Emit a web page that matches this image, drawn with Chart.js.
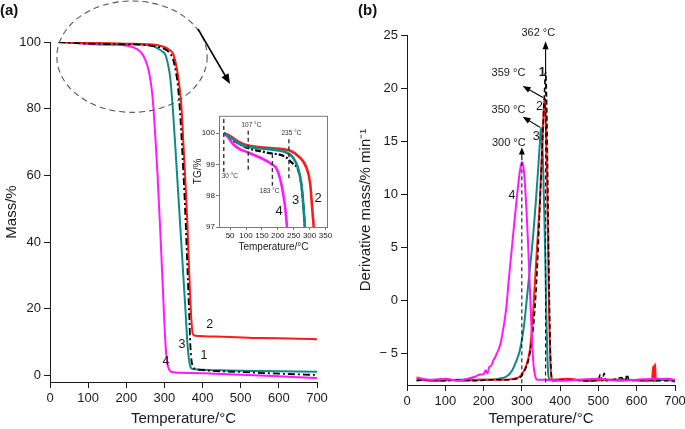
<!DOCTYPE html>
<html>
<head>
<meta charset="utf-8">
<script src="https://cdn.jsdelivr.net/npm/chart.js@4.4.1/dist/chart.umd.min.js"></script>
<style>
  html, body { margin: 0; padding: 0; background: #fff; }
  #wrap { position: relative; width: 685px; height: 429px; overflow: hidden; }
  canvas { position: absolute; }
  .tag { position: absolute; font: bold 15px "Liberation Sans", Arial, sans-serif; color: #111; }
</style>
</head>
<body>
<div id="wrap">
  <canvas id="tgChart" width="342" height="429" style="left:0;top:0"></canvas>
  <canvas id="dtgChart" width="360" height="429" style="left:342px;top:0"></canvas>
  <canvas id="insetChart" width="150" height="150" style="left:190px;top:110px"></canvas>
  <div class="tag" style="left:0;top:1px">(a)</div>
  <div class="tag" style="left:358px;top:1px">(b)</div>
</div>
<script>
// (a) TG mass curves, samples 1-4
const tgTemp1 = [22, 100, 200, 250, 280, 300, 312, 322, 330, 336, 342, 350, 356, 361, 365, 368, 371, 375, 380, 400, 500, 600, 700];
const tgMass1 = [100, 99.5, 99.3, 99.1, 98.6, 97.9, 96.9, 95, 91, 86, 77, 60, 45, 30, 18, 9, 4.5, 2.5, 2.0, 1.6, 1.0, 0.5, 0.1];
const tgTemp2 = [22, 100, 200, 250, 280, 300, 312, 323, 330, 336, 341, 345, 350, 355, 360, 365, 369, 372, 375, 380, 450, 550, 650, 700];
const tgMass2 = [100, 99.75, 99.5, 99.35, 99.1, 98.5, 97.7, 96.4, 93.5, 89.6, 85, 80, 69, 58, 46, 31, 20, 14.5, 12.3, 11.9, 11.6, 11.2, 11.0, 10.8];
const tgTemp3 = [22, 100, 200, 250, 270, 285, 295, 302, 308, 315, 322, 330, 340, 350, 356, 360, 364, 368, 372, 380, 450, 550, 700];
const tgMass3 = [100, 99.6, 99.35, 99.2, 98.8, 97.9, 97.1, 96.3, 94, 89.5, 80, 66, 47.5, 29, 18, 10, 5, 2.6, 2.0, 1.8, 1.5, 1.3, 1.1];
const tgTemp4 = [22, 60, 100, 150, 200, 220, 235, 245, 255, 262, 268, 272, 277, 282, 288, 294, 299, 303, 307, 312, 320, 340, 400, 500, 600, 700];
const tgMass4 = [100, 99.8, 99.4, 99.2, 98.9, 98.3, 97.3, 95.8, 93, 89.5, 84.5, 79, 70, 60, 46, 31, 18, 9, 4, 1.8, 1.0, 0.8, 0.6, 0.2, -0.3, -0.8];

// inset: zoom of the start of the TG curves
const inTemp1 = [30, 70, 106, 164, 227, 237, 250, 263, 274, 281, 285, 288];
const inMass1 = [100, 99.7, 99.52, 99.38, 99.22, 99.12, 99.0, 98.85, 98.35, 97.6, 97.0, 96.5];
const inTemp2 = [30, 49, 80, 106, 175, 237, 269, 290, 302, 308, 313, 316];
const inMass2 = [100, 99.91, 99.7, 99.6, 99.52, 99.44, 99.22, 98.9, 98.38, 97.63, 97.0, 96.5];
const inTemp3 = [30, 59, 80, 106, 164, 227, 248, 263, 274, 281, 285, 288];
const inMass3 = [100, 99.81, 99.65, 99.56, 99.49, 99.38, 99.22, 98.9, 98.38, 97.63, 97.0, 96.5];
const inTemp4 = [30, 44, 59, 80, 106, 143, 180, 197, 204, 211, 217, 222, 226, 229, 232];
const inMass4 = [100, 99.86, 99.65, 99.49, 99.38, 99.22, 99.01, 98.85, 98.65, 98.38, 98.05, 97.72, 97.35, 97.0, 96.6];

// (b) DTG curves
const dtgTemp1 = [25, 60, 100, 140, 180, 220, 260, 290, 305, 320, 330, 338, 345, 350, 355, 359, 362, 365, 368, 371, 374, 377, 380, 420, 460, 500, 505, 510, 515, 520, 540, 560, 570, 575, 580, 620, 660, 700];
const dtgRate1 = [-7.6, -7.5, -7.6, -7.5, -7.6, -7.5, -7.5, -7.4, -6.8, -5.2, -2.5, 1.5, 7.0, 11.5, 16.0, 19.5, 21.5, 18.0, 10.0, 2.0, -4.0, -7.0, -7.6, -7.5, -7.6, -7.5, -7.0, -7.6, -6.9, -7.6, -7.5, -7.3, -7.6, -7.0, -7.6, -7.5, -7.6, -7.6];
const dtgTemp2 = [25, 70, 110, 150, 190, 230, 260, 280, 295, 310, 321, 328, 334, 340, 347, 352, 356, 359, 362, 365, 368, 371, 374, 377, 380, 420, 470, 520, 570, 620, 640, 643, 645, 648, 650, 653, 680, 700];
const dtgRate2 = [-7.4, -7.6, -7.5, -7.6, -7.5, -7.5, -7.5, -7.4, -7.2, -6.3, -4.7, -2.0, 1.6, 5.2, 9.4, 13.5, 17.0, 19.0, 17.5, 13.0, 6.0, -1.0, -5.5, -7.2, -7.5, -7.4, -7.6, -7.5, -7.5, -7.6, -7.5, -6.2, -7.7, -6.0, -7.6, -7.5, -7.4, -7.6];
const dtgTemp3 = [25, 80, 130, 180, 220, 240, 260, 275, 285, 295, 305, 312, 320, 330, 337, 343, 347, 350, 353, 356, 359, 362, 364, 366, 368, 371, 380, 430, 480, 530, 580, 630, 680, 700];
const dtgRate3 = [-7.5, -7.6, -7.5, -7.5, -7.5, -7.4, -7.2, -6.6, -5.8, -4.7, -2.6, -0.2, 2.6, 6.3, 9.5, 12.6, 14.8, 16.3, 15.0, 12.0, 7.5, 2.5, -1.5, -4.5, -6.5, -7.4, -7.5, -7.5, -7.6, -7.5, -7.5, -7.6, -7.5, -7.7];
const dtgTemp4 = [25, 60, 100, 130, 160, 180, 190, 200, 205, 210, 215, 220, 225, 230, 235, 240, 245, 250, 255, 260, 265, 270, 275, 280, 285, 290, 295, 300, 304, 308, 312, 316, 320, 324, 328, 332, 336, 340, 360, 400, 450, 500, 550, 600, 650, 700];
const dtgRate4 = [-7.3, -7.5, -7.4, -7.6, -7.4, -7.2, -7.0, -7.0, -6.6, -6.9, -6.3, -6.2, -5.7, -5.4, -5.0, -4.6, -4.0, -3.0, -1.9, -0.5, 1.6, 3.5, 5.3, 7.2, 9.0, 10.7, 12.2, 13.0, 12.6, 11.0, 8.5, 5.5, 2.0, -1.6, -4.8, -6.6, -7.3, -7.5, -7.5, -7.6, -7.5, -7.4, -7.6, -7.5, -7.4, -7.5];

const FONT = '"Liberation Sans", Arial, Helvetica, sans-serif';
const INK = '#1a1a1a';
const RED = '#ff1a1a', TEAL = '#0f8a87', PINK = '#ff19ff';

Chart.defaults.font.family = FONT;
Chart.defaults.color = INK;
Chart.defaults.animation = false;

const pts = (xs, ys) => xs.map((x, i) => ({ x: x, y: ys[i] }));

function line(data, color, width, dash) {
    return {
        data: data,
        borderColor: color,
        borderWidth: width,
        borderDash: dash || [],
        pointRadius: 0,
        fill: false,
        cubicInterpolationMode: 'monotone'
    };
}

function axis(min, max, step, extra) {
    return Object.assign({
        type: 'linear',
        min: min,
        max: max,
        ticks: { stepSize: step, includeBounds: false, autoSkip: false, maxRotation: 0, color: INK, font: { size: 13 }, padding: 3 },
        grid: { drawOnChartArea: false, drawTicks: true, tickLength: 6, color: INK },
        border: { color: INK, width: 1 }
    }, extra);
}

// small drawing helpers for the notes on top of the plots
function at(chart, x, y) {
    return [chart.scales.x.getPixelForValue(x), chart.scales.y.getPixelForValue(y)];
}

function arrow(ctx, x1, y1, x2, y2, len, half) {
    const a = Math.atan2(y2 - y1, x2 - x1);
    ctx.beginPath();
    ctx.moveTo(x1, y1);
    ctx.lineTo(x2 - Math.cos(a) * len * 0.7, y2 - Math.sin(a) * len * 0.7);
    ctx.stroke();
    ctx.beginPath();
    ctx.moveTo(x2, y2);
    ctx.lineTo(x2 - len * Math.cos(a) + half * Math.sin(a), y2 - len * Math.sin(a) - half * Math.cos(a));
    ctx.lineTo(x2 - len * Math.cos(a) - half * Math.sin(a), y2 - len * Math.sin(a) + half * Math.cos(a));
    ctx.closePath();
    ctx.fill();
}

function text(ctx, s, x, y, size, bold) {
    ctx.font = (bold ? 'bold ' : '') + size + 'px ' + FONT;
    ctx.textAlign = 'center';
    ctx.textBaseline = 'middle';
    ctx.fillText(s, x, y);
}

function vdash(chart, x, yTop, yBottom, dash, width) {
    const ctx = chart.ctx;
    const [px, py1] = at(chart, x, yTop);
    const py2 = chart.scales.y.getPixelForValue(yBottom);
    ctx.save();
    ctx.setLineDash(dash);
    ctx.lineWidth = width;
    ctx.beginPath();
    ctx.moveTo(px, py1);
    ctx.lineTo(px, py2);
    ctx.stroke();
    ctx.restore();
}

// ---------- (a) TG ----------
const notesA = {
    id: 'notesA',
    afterDatasetsDraw(chart) {
        const ctx = chart.ctx;
        ctx.save();
        // dashed ellipse round the start of the curves
        const [cx, cy] = at(chart, 215, 95.6);
        const rx = Math.abs(chart.scales.x.getPixelForValue(215 + 197) - cx);
        const ry = Math.abs(chart.scales.y.getPixelForValue(95.6 - 16.7) - cy);
        ctx.strokeStyle = '#555';
        ctx.lineWidth = 1.1;
        ctx.setLineDash([6, 4]);
        ctx.beginPath();
        ctx.ellipse(cx, cy, rx, ry, 0, 0, Math.PI * 2);
        ctx.stroke();
        ctx.setLineDash([]);
        // arrow towards the inset
        ctx.strokeStyle = '#000';
        ctx.fillStyle = '#000';
        ctx.lineWidth = 1.6;
        const [ax1, ay1] = at(chart, 388, 103.9);
        const [ax2, ay2] = at(chart, 472, 87.4);
        arrow(ctx, ax1, ay1, ax2, ay2, 10, 4);
        // curve numbers
        ctx.fillStyle = INK;
        [['2', 419, 15.1], ['3', 346, 9.1], ['1', 404, 5.8], ['4', 304, 4.0]].forEach(([s, x, y]) => {
            const [px, py] = at(chart, x, y);
            text(ctx, s, px, py, 12.5);
        });
        ctx.restore();
    }
};

new Chart(document.getElementById('tgChart'), {
    type: 'line',
    data: {
        datasets: [
            line(pts(tgTemp1, tgMass1), '#000', 1.8, [7, 3, 2, 3]),
            line(pts(tgTemp2, tgMass2), RED, 2),
            line(pts(tgTemp3, tgMass3), TEAL, 2),
            line(pts(tgTemp4, tgMass4), PINK, 2)
        ]
    },
    options: {
        responsive: false,
        layout: { padding: { top: 42, right: 25, left: 0, bottom: 0 } },
        plugins: { legend: { display: false }, tooltip: { enabled: false } },
        scales: {
            x: axis(0, 700, 100, {
                title: { display: true, text: 'Temperature/°C', font: { size: 15 }, padding: { bottom: 1 } },
                afterFit(s) { s.height = 47; }
            }),
            y: axis(-2, 100, 20, {
                title: { display: true, text: 'Mass/%', font: { size: 15 }, padding: { top: 3 } },
                afterFit(s) { s.width = 50; }
            })
        }
    },
    plugins: [notesA]
});

// ---------- inset ----------
const notesInset = {
    id: 'notesInset',
    afterDatasetsDraw(chart) {
        const ctx = chart.ctx;
        const a = chart.chartArea;
        ctx.save();
        ctx.strokeStyle = '#7a7a7a';
        ctx.lineWidth = 1;
        ctx.strokeRect(a.left + 0.5, a.top + 0.5, a.right - a.left - 1, a.bottom - a.top);
        ctx.strokeStyle = '#333';
        [[30, 100.45, 98.75], [107, 100.07, 98.8], [183, 99.33, 98.32], [235, 99.8, 98.48]].forEach(([x, t, b]) => {
            vdash(chart, x, t, b, [4, 3], 1.4);
        });
        ctx.fillStyle = '#333';
        [['30 °C', 49, 98.61], ['107 °C', 117, 100.26], ['183 °C', 174, 98.13], ['235 °C', 243, 99.99]].forEach(([s, x, y]) => {
            const [px, py] = at(chart, x, y);
            text(ctx, s, px, py, 6.5);
        });
        ctx.fillStyle = INK;
        [['2', 327, 97.92], ['3', 256, 97.86], ['4', 204, 97.49]].forEach(([s, x, y]) => {
            const [px, py] = at(chart, x, y);
            text(ctx, s, px, py, 13);
        });
        ctx.restore();
    }
};

new Chart(document.getElementById('insetChart'), {
    type: 'line',
    data: {
        datasets: [
            line(pts(inTemp3, inMass3), TEAL, 2.6),
            line(pts(inTemp2, inMass2), RED, 2.6),
            line(pts(inTemp4, inMass4), PINK, 2.6),
            line(pts(inTemp1, inMass1), '#000', 2.2, [6, 2, 2, 2])
        ]
    },
    options: {
        responsive: false,
        layout: { padding: { top: 5, right: 12, left: 0, bottom: 0 } },
        plugins: { legend: { display: false }, tooltip: { enabled: false } },
        scales: {
            x: axis(15, 358, 50, {
                ticks: { stepSize: 50, includeBounds: false, autoSkip: false, maxRotation: 0, color: INK, font: { size: 8 }, padding: 1 },
                grid: { drawOnChartArea: false, drawTicks: true, tickLength: 3, color: '#7a7a7a' },
                border: { display: false },
                title: { display: true, text: 'Temperature/°C', font: { size: 10 }, padding: { bottom: 7 } },
                afterFit(s) { s.height = 33; }
            }),
            y: axis(97, 100.55, 1, {
                ticks: { stepSize: 1, includeBounds: false, autoSkip: false, color: INK, font: { size: 8 }, padding: 1 },
                grid: { drawOnChartArea: false, drawTicks: true, tickLength: 3, color: '#7a7a7a' },
                border: { display: false },
                title: { display: true, text: 'TG/%', font: { size: 10 }, padding: { top: 2 } },
                afterFit(s) { s.width = 29; }
            })
        }
    },
    plugins: [notesInset]
});

// ---------- (b) DTG ----------
const notesB = {
    id: 'notesB',
    afterDatasetsDraw(chart) {
        const ctx = chart.ctx;
        ctx.save();
        ctx.strokeStyle = '#000';
        ctx.fillStyle = '#000';
        // dashed drop lines at the 300 and 362 °C peaks
        vdash(chart, 300, 13.0, -8, [4, 3], 1);
        vdash(chart, 362, 21.0, -8, [4, 3], 1);
        ctx.lineWidth = 1.1;
        let p, q;
        p = at(chart, 362, 21.0); q = at(chart, 362, 24.4);
        arrow(ctx, p[0], p[1], q[0], q[1], 8, 3);
        p = at(chart, 355, 19.1); q = at(chart, 302, 20.2);
        arrow(ctx, p[0], p[1], q[0], q[1], 8, 3);
        p = at(chart, 347, 16.3); q = at(chart, 302, 17.3);
        arrow(ctx, p[0], p[1], q[0], q[1], 8, 3);
        p = at(chart, 300, 13.2); q = at(chart, 300, 14.4);
        arrow(ctx, p[0], p[1], q[0], q[1], 7, 3);
        ctx.fillStyle = INK;
        [['362 °C', 343, 25.2], ['359 °C', 265, 21.4], ['350 °C', 265, 17.9], ['300 °C', 266, 14.8]].forEach(([s, x, y]) => {
            const [px, py] = at(chart, x, y);
            text(ctx, s, px, py, 11);
        });
        [['1', 353, 21.5, true], ['2', 346, 18.3], ['3', 337.5, 15.4], ['4', 274, 9.9]].forEach(([s, x, y, b]) => {
            const [px, py] = at(chart, x, y);
            text(ctx, s, px, py, 12.5, b);
        });
        ctx.restore();
    }
};

new Chart(document.getElementById('dtgChart'), {
    type: 'line',
    data: {
        datasets: [
            line(pts(dtgTemp4, dtgRate4), PINK, 2),
            line(pts(dtgTemp1, dtgRate1), '#000', 1.6, [5, 3]),
            line(pts(dtgTemp2, dtgRate2), RED, 2),
            line(pts(dtgTemp3, dtgRate3), TEAL, 2)
        ]
    },
    options: {
        responsive: false,
        layout: { padding: { top: 35, right: 27, left: 0, bottom: 0 } },
        plugins: { legend: { display: false }, tooltip: { enabled: false } },
        scales: {
            x: axis(0, 700, 100, {
                title: { display: true, text: 'Temperature/°C', font: { size: 15 }, padding: { bottom: 1 } },
                afterFit(s) { s.height = 44; }
            }),
            y: axis(-8, 25, 5, {
                ticks: {
                    stepSize: 5, includeBounds: false, autoSkip: false, color: INK, font: { size: 13 }, padding: 3,
                    callback: v => v < 0 ? '\u2212 ' + Math.abs(v) : String(v)
                },
                title: { display: true, text: 'Derivative mass/% min\u207B\u00B9', font: { size: 15 }, padding: { top: 15 } },
                afterFit(s) { s.width = 65; }
            })
        }
    },
    plugins: [notesB]
});
</script>
</body>
</html>
